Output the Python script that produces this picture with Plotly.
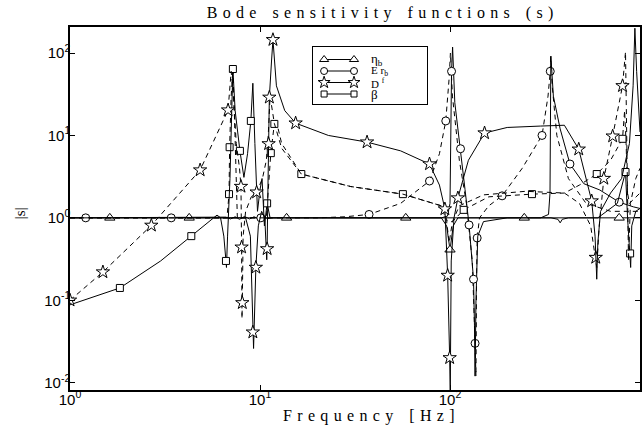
import plotly.graph_objects as go

# ---------------- data (frequency [Hz], |s|) ----------------
# solid curves (case A) and dashed curves (case B); *_M = indices carrying markers
ETA_A_F = [1, 1.62, 4.24, 6.0, 6.6, 7.0, 7.4, 7.8, 8.3, 8.8, 9.3, 9.8, 10.4, 11.0, 11.6, 13.8, 58.5, 90, 96, 100,
           104, 110, 246, 340, 370, 380, 390, 420, 777, 1000]
ETA_A_V = [1, 1, 1, 1, 1.02, 0.97, 1.03, 0.96, 1.04, 0.97, 1.03, 0.98, 1.02, 0.98, 1, 1, 1, 1, 0.8, 0.41,
           0.8, 1, 1, 1, 0.96, 0.87, 0.96, 1, 1, 1]
ETA_A_M = [1, 2, 15, 16, 19, 22, 28]

ER_A_F = [1, 1.21, 3.41, 10.1, 30, 60, 90, 97, 100, 101.9, 103.2, 106, 113.6, 120, 126, 133, 134.5, 135.5, 137, 140,
          150, 200, 300, 330, 336, 338, 339.5, 350, 380, 428, 506, 614, 777, 923, 1000]
ER_A_V = [1, 1, 1, 1, 1, 1, 1, 1.05, 1.5, 60, 118, 25, 6.9, 2.2, 0.82, 0.18, 0.05, 0.012, 0.1, 0.6,
          0.9, 1, 1, 1.1, 2, 20, 92, 30, 12, 4.5, 2.6, 2.18, 1.55, 1.36, 1.3]
ER_A_M = [1, 2, 3, 9, 12, 14, 15, 29, 32]

ER_B_F = [1, 20, 28, 37.5, 55, 78, 88, 95, 99, 100.5, 103, 112, 122, 131, 135.5, 137, 138, 139, 143, 160,
          188, 240, 305, 328, 337, 338.5, 345, 365, 420, 520, 700, 1000]
ER_B_V = [1, 1, 1.03, 1.1, 1.5, 2.8, 6, 15, 50, 100, 30, 5, 1.5, 0.3, 0.03, 0.012, 0.2, 0.57, 1, 1.4,
          1.85, 4, 10, 30, 60, 90, 40, 10, 3, 1.5, 1.2, 1.2]
ER_B_M = [3, 5, 7, 14, 17, 20, 22, 24]

DF_A_F = [1, 5, 8.4, 8.9, 9.1, 9.17, 9.25, 9.51, 9.8, 10.2, 10.6, 10.85, 10.9, 11.0, 11.1, 11.2, 11.5, 11.7, 12.2, 13.5,
          15.4, 22.9, 36.6, 55, 78, 88, 94, 97.2, 99.6, 100.3, 101.5, 105, 110, 125, 152, 200, 300, 400, 476, 520,
          557, 580, 592, 600, 620, 700, 800, 880, 920, 940, 960, 1000]
DF_A_V = [1, 1, 1, 0.6, 0.1, 0.041, 0.026, 0.25, 0.8, 1.2, 1.0, 0.31, 0.42, 2, 7.9, 29, 80, 145, 40, 20,
          14.1, 10, 8.3, 6.5, 4.5, 2.5, 1.28, 0.2, 0.02, 0.008, 0.3, 1.0, 1.74, 5, 10.7, 12.5, 13, 13.3, 6.8, 3,
          1.6, 0.6, 0.18, 0.5, 1.2, 2, 3, 8, 40, 200, 60, 11]
DF_A_M = [5, 7, 12, 14, 15, 17, 20, 22, 24, 26, 27, 28, 32, 34, 38, 40]

DF_B_F = [1, 1.49, 2.68, 4.84, 6.79, 7.05, 7.25, 7.5, 7.8, 7.94, 8.0, 8.04, 8.07, 8.15, 8.4, 9.0, 9.6, 10.3, 10.8, 11.05,
          11.3, 11.9, 13, 16.5, 30, 56.5, 90, 96, 99, 103, 112, 150, 250, 400, 480, 550, 585, 592, 610, 645,
          718, 809, 839, 848, 860, 870, 890, 950, 1000]
DF_B_V = [0.1, 0.22, 0.81, 3.8, 20.3, 60, 30, 8, 4, 2.4, 0.44, 0.06, 0.093, 0.6, 1.2, 1.8, 2.05, 3, 5, 10,
          30, 14, 7, 3.4, 2.4, 1.94, 1.4, 0.9, 0.5, 0.9, 1.4, 1.9, 2.1, 2, 1.5, 0.8, 0.33, 0.25, 0.8, 3,
          9.8, 40, 103, 20, 1, 0.3, 1.5, 3, 4]
DF_B_M = [0, 1, 2, 3, 4, 9, 10, 12, 16, 36, 39, 40, 41]

BETA_A_F = [1, 1.83, 3, 4.35, 5.5, 5.94, 6.2, 6.45, 6.62, 6.66, 6.75, 6.95, 7.1, 7.2, 7.4, 7.84, 8.23, 8.6, 8.95, 9.17,
            9.4, 9.7, 10.0, 10.25, 10.55, 10.9, 11.3, 12, 100, 600, 760, 820, 839, 860, 887, 893, 905, 950, 1000]
BETA_A_V = [0.088, 0.141, 0.3, 0.6, 0.95, 1.08, 1.0, 0.6, 0.3, 0.25, 0.6, 3, 20, 64, 20, 6.5, 3.1, 6, 15, 43,
            8, 1.2, 2.2, 3.0, 0.8, 1.5, 1.0, 1, 1, 1, 1.5, 3, 3.6, 1, 0.37, 0.25, 0.8, 1.2, 1.3]
BETA_A_M = [1, 3, 8, 13, 15, 18, 25, 32, 34]

BETA_B_F = [1, 6.7, 6.87, 6.92, 7.05, 7.2, 7.35, 7.6, 10.8, 11.0, 11.4, 11.9, 12.1, 13, 16.5, 30, 56.5, 90, 97, 103,
            118, 160, 270, 400, 480, 592, 700, 809, 830, 845, 860, 880, 1000]
BETA_B_V = [1, 1, 1.94, 7.2, 30, 64, 15, 1, 1, 2, 6.1, 13.8, 16, 8, 3.4, 2.4, 1.94, 1.4, 0.9, 0.9,
            1.25, 1.8, 1.94, 2, 2.5, 3.4, 5, 9.1, 20, 8, 2, 1.5, 2]
BETA_B_M = [2, 3, 10, 11, 14, 16, 20, 22, 25, 27]

LEGEND_LABELS = ["η<sub>b</sub>", "E r<sub>b</sub>", "D <sup>f</sup>", "β"]
LEGEND_LABEL_SIZES = [13, 11, 11, 13]
X_TICKS = [1, 10, 100, 1000]
X_TICK_TEXT = ["10<sup>0</sup>", "10<sup>1</sup>", "10<sup>2</sup>", "10<sup>3</sup>"]
Y_TICKS = [0.01, 0.1, 1, 10, 100]
Y_TICK_TEXT = ["10<sup>-2</sup>", "10<sup>-1</sup>", "10<sup>0</sup>", "10<sup>1</sup>", "10<sup>2</sup>"]

# ---------------- figure ----------------
SYMBOLS = ["triangle-up", "circle", "star", "square"]
SIZES = [9, 8, 10, 7]
DASH = "5px,4px"

fig = go.Figure()


def add_curve(F, V, M, k, dashed):
    fig.add_trace(go.Scatter(
        x=F, y=V, mode="lines", showlegend=False, hoverinfo="skip",
        line=dict(color="black", width=1, dash=DASH if dashed else "solid")))
    fig.add_trace(go.Scatter(
        x=[F[i] for i in M], y=[V[i] for i in M], mode="markers", showlegend=False,
        hoverinfo="skip",
        marker=dict(symbol=SYMBOLS[k], size=SIZES[k], color="white",
                    line=dict(color="black", width=1))))


add_curve(ETA_A_F, ETA_A_V, ETA_A_M, 0, False)
add_curve(ER_B_F, ER_B_V, ER_B_M, 1, True)
add_curve(ER_A_F, ER_A_V, ER_A_M, 1, False)
add_curve(BETA_B_F, BETA_B_V, BETA_B_M, 3, True)
add_curve(BETA_A_F, BETA_A_V, BETA_A_M, 3, False)
add_curve(DF_B_F, DF_B_V, DF_B_M, 2, True)
add_curve(DF_A_F, DF_A_V, DF_A_M, 2, False)

SERIF = "Liberation Serif, Times New Roman, serif"
SANS = "Liberation Sans, Arial, sans-serif"

# ---------------- legend box (MATLAB style, drawn on an inset axis in pixel units) ----------------
W_PLOT, H_PLOT, L0, T0, B0 = 572, 363, 70, 27, 390
BOX = dict(x0=314, x1=428, y0=47, y1=104)            # box in page pixels
ROWS = [12.5, 24, 35.5, 47]                            # row centres below box top
SAMPLE_X = [11, 41]                                    # sample marker x within box
TEXT_X = 57

for k, lab in enumerate(LEGEND_LABELS):
    fig.add_trace(go.Scatter(
        x=SAMPLE_X, y=[ROWS[k]] * 2, mode="lines+markers", xaxis="x2", yaxis="y2",
        showlegend=False, hoverinfo="skip", line=dict(color="black", width=1),
        marker=dict(symbol=SYMBOLS[k], size=SIZES[k] - 1, color="white",
                    line=dict(color="black", width=1))))
    fig.add_annotation(x=TEXT_X, y=ROWS[k], xref="x2", yref="y2", text=lab, showarrow=False,
                       xanchor="left", yanchor="middle", borderpad=0,
                       font=dict(family=SERIF, size=LEGEND_LABEL_SIZES[k], color="black"))

axis_common = dict(
    type="log", showgrid=False, zeroline=False, showline=True, linecolor="black",
    linewidth=1.5, mirror="ticks", ticks="inside", ticklen=5, tickwidth=1,
    ticklabelstandoff=-5,
    tickcolor="black", tickfont=dict(family=SANS, size=15, color="black"))

G = "\u2004"          # gap between letters
W = G * 3             # gap between words
title_txt = W.join(G.join(w) for w in ["Bode", "sensitivity", "functions", "(s)"])
xtitle_txt = W.join(G.join(w) for w in ["Frequency", "[Hz]"])

fig.update_layout(
    width=644, height=429,
    margin=dict(l=L0, r=2, t=T0, b=429 - B0),
    paper_bgcolor="white", plot_bgcolor="white",
    showlegend=False,
    title=dict(text=title_txt, x=380 / 644, xanchor="center", xref="container",
               y=1 - 12 / 429, yanchor="middle", yref="container",
               font=dict(family=SERIF, size=16, color="black")),
    xaxis=dict(axis_common, range=[0, 3], tickvals=X_TICKS, ticktext=X_TICK_TEXT),
    yaxis=dict(axis_common, range=[-2.089, 2.316], tickvals=Y_TICKS, ticktext=Y_TICK_TEXT),
    xaxis2=dict(domain=[(BOX["x0"] - L0) / W_PLOT, (BOX["x1"] - L0) / W_PLOT],
                range=[0, BOX["x1"] - BOX["x0"]], anchor="y2",
                showgrid=False, zeroline=False, showticklabels=False, ticks="",
                showline=True, mirror=True, linecolor="black", linewidth=1, fixedrange=True),
    yaxis2=dict(domain=[1 - (BOX["y1"] - T0) / H_PLOT, 1 - (BOX["y0"] - T0) / H_PLOT],
                range=[BOX["y1"] - BOX["y0"], 0], anchor="x2",
                showgrid=False, zeroline=False, showticklabels=False, ticks="",
                showline=True, mirror=True, linecolor="black", linewidth=1, fixedrange=True),
)

# axis titles placed at the reference's page-pixel positions (paper coords = plot area)
fig.add_annotation(text=xtitle_txt, x=(370 - L0) / W_PLOT, y=(B0 - 416) / H_PLOT,
                   xref="paper", yref="paper", xanchor="center", yanchor="middle",
                   showarrow=False, font=dict(family=SERIF, size=16, color="black"))
fig.add_annotation(text="|s|", x=(20 - L0) / W_PLOT, y=(B0 - 213) / H_PLOT,
                   xref="paper", yref="paper", xanchor="center", yanchor="middle",
                   showarrow=False, textangle=-90,
                   font=dict(family=SERIF, size=15, color="black"))

fig.write_html("out.html")
